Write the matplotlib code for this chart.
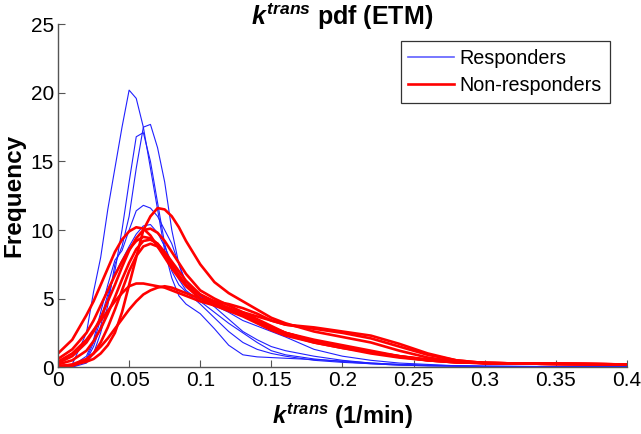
import matplotlib
matplotlib.use("Agg")
from matplotlib import pyplot as plt
from matplotlib.lines import Line2D

# k-trans grid (1/min) shared by every curve
k_grid = [0, .01, .02, .025, .03, .035, .04, .045, .05, .055, .06, .065, .07, .075,
          .08, .085, .09, .1, .11, .12, .13, .14, .15, .16, .18, .2, .22, .24, .26,
          .28, .3, .34, .4]

# responders (blue)
resp_1 = [0, 0.2, 2.5, 5.5, 8, 11.5, 14.5, 17.5, 20.2, 19.6, 17.5, 14.5, 11.5, 8.5,
          6.5, 5.2, 4.6, 3.9, 2.8, 1.6, 0.9, 0.75, 0.7, 0.65, 0.55, 0.45, 0.3, 0.2, 0.15,
          0.1, 0.08, 0.05, 0.03]
resp_2 = [0, 0, 0.5, 1.5, 3, 5, 7, 10, 13.5, 16.8, 17.1, 15, 12, 9,
          7, 6, 5.5, 4.6, 3.6, 2.6, 1.8, 1.3, 1.0, 0.8, 0.5, 0.35, 0.25, 0.15, 0.1,
          0.08, 0.05, 0.04, 0.03]
resp_3 = [0, 0, 0.3, 1, 2.5, 4.5, 7.5, 8.8, 11, 14.5, 17.5, 17.7, 16, 13.5,
          10, 7.5, 6, 5.2, 4.4, 3.5, 2.6, 2.0, 1.5, 1.2, 0.8, 0.5, 0.3, 0.2, 0.12,
          0.08, 0.05, 0.04, 0.03]
resp_4 = [0, 0.1, 0.8, 2, 4, 6, 7.8, 8.5, 10, 11.4, 11.8, 11.6, 11, 10,
          9, 7.5, 6.2, 5.2, 4.5, 4.0, 3.4, 3.0, 2.6, 2.2, 1.3, 0.8, 0.5, 0.3, 0.2,
          0.1, 0.06, 0.04, 0.03]
resp_5 = [0, 0.05, 0.6, 1.8, 3.5, 5.3, 6.8, 7.8, 8.8, 9.7, 10.3, 10.4, 9.8, 8.8,
          7.6, 6.4, 5.6, 4.8, 4.0, 3.2, 2.5, 1.8, 1.2, 0.9, 0.6, 0.4, 0.25, 0.15, 0.1,
          0.08, 0.05, 0.04, 0.03]

# non-responders (red)
nonresp_1 = [0.1, 0.15, 0.4, 0.6, 1.0, 1.6, 2.5, 4, 6, 8, 10, 11, 11.6, 11.5,
             11, 10.2, 9.2, 7.5, 6.2, 5.4, 4.8, 4.2, 3.6, 3.2, 2.6, 2.2, 1.8, 1.2, 0.7,
             0.4, 0.3, 0.25, 0.2]
nonresp_2 = [1.0, 2.0, 3.8, 4.8, 6, 7.2, 8.4, 9.3, 9.9, 10.2, 10.1, 9.6, 8.8, 8,
             7.2, 6.5, 6, 5.3, 4.8, 4.3, 3.8, 3.3, 2.8, 2.4, 1.8, 1.4, 1.1, 0.8, 0.55,
             0.4, 0.3, 0.25, 0.2]
nonresp_3 = [0.3, 0.8, 1.8, 2.6, 3.6, 4.8, 6, 7.3, 8.5, 9.4, 10, 10.1, 9.8, 9.2,
             8.4, 7.6, 6.8, 5.6, 5.0, 4.5, 4.0, 3.5, 3.0, 2.5, 1.9, 1.5, 1.1, 0.8, 0.55,
             0.4, 0.3, 0.25, 0.2]
nonresp_4 = [0.6, 1.3, 2.5, 3.4, 4.5, 5.6, 6.7, 7.7, 8.6, 9.2, 9.5, 9.4, 9.0, 8.3,
             7.5, 6.7, 6, 5.0, 4.5, 4.1, 3.7, 3.2, 2.7, 2.3, 1.8, 1.4, 1.0, 0.7, 0.5,
             0.35, 0.3, 0.25, 0.2]
nonresp_5 = [0.05, 0.1, 0.5, 1, 1.8, 2.9, 4.2, 5.6, 7, 8.1, 8.8, 9.0, 8.8, 8.2,
             7.4, 6.6, 5.9, 5.0, 4.6, 4.2, 3.8, 3.3, 2.9, 2.5, 2.0, 1.6, 1.2, 0.8, 0.5,
             0.35, 0.3, 0.25, 0.2]
nonresp_6 = [0.4, 1.0, 2.0, 2.7, 3.4, 4.1, 4.8, 5.4, 5.9, 6.1, 6.1, 6.0, 5.9, 5.8,
             5.6, 5.4, 5.2, 4.8, 4.5, 4.2, 4.0, 3.7, 3.4, 3.1, 2.8, 2.5, 2.1, 1.5, 0.9,
             0.5, 0.3, 0.25, 0.2]
nonresp_7 = [0.05, 0.2, 0.6, 1.0, 1.5, 2.1, 2.8, 3.5, 4.2, 4.8, 5.3, 5.6, 5.8, 5.9,
             5.8, 5.6, 5.4, 5.0, 4.8, 4.6, 4.3, 3.9, 3.4, 3.1, 2.9, 2.6, 2.3, 1.7, 1.0,
             0.5, 0.3, 0.25, 0.2]
nonresp_8 = [0.2, 0.5, 1.2, 1.9, 2.8, 3.9, 5.1, 6.4, 7.6, 8.6, 9.2, 9.3, 9.0, 8.4,
             7.7, 7.0, 6.3, 5.3, 4.7, 4.3, 3.9, 3.4, 2.9, 2.5, 1.9, 1.5, 1.1, 0.75, 0.5,
             0.35, 0.3, 0.25, 0.2]

responders = [resp_1, resp_2, resp_3, resp_4, resp_5]
non_responders = [nonresp_1, nonresp_2, nonresp_3, nonresp_4, nonresp_5,
                  nonresp_6, nonresp_7, nonresp_8]

x_ticks = [0, 0.05, 0.1, 0.15, 0.2, 0.25, 0.3, 0.35, 0.4]
y_ticks = [0, 5, 10, 15, 20, 25]

plt.rcParams['font.family'] = ['Liberation Sans', 'DejaVu Sans']
plt.rcParams['mathtext.fontset'] = 'custom'
plt.rcParams['mathtext.rm'] = 'Liberation Sans:bold'
plt.rcParams['mathtext.it'] = 'Liberation Sans:bold:italic'
plt.rcParams['mathtext.bf'] = 'Liberation Sans:bold'

fig = plt.figure(figsize=(6.41, 4.34), dpi=100)
ax = fig.add_axes([0.0905, 0.154, 0.8875, 0.79])

for curve in responders:
    ax.plot(k_grid, curve, color='#2020ff', linewidth=0.8)
for curve in non_responders:
    ax.plot(k_grid, curve, color='#ff0000', linewidth=1.9)

ax.set_xlim(0, 0.4)
ax.set_ylim(0, 25)
ax.set_xticks(x_ticks)
ax.set_xticklabels([('%g' % t) for t in x_ticks])
ax.set_yticks(y_ticks)

for side in ['top', 'right']:
    ax.spines[side].set_visible(False)
for side in ['left', 'bottom']:
    ax.spines[side].set_color('#555555')
    ax.spines[side].set_linewidth(1.0)
ax.tick_params(direction='in', length=5, width=0.8, color='#555555',
               labelsize=15, labelcolor='black', pad=3)

# title sits right under the top edge, centred on the axes
fig.text(0.534, 0.997, r'$k^{trans}$ pdf (ETM)', fontsize=18, fontweight='bold',
         ha='center', va='top')
ax.set_xlabel(r'$k^{trans}$ (1/min)', fontsize=17, fontweight='bold', labelpad=8)
ax.set_ylabel('Frequency', fontsize=17.5, fontweight='bold', labelpad=4)

handles = [Line2D([], [], color='#6060ff', linewidth=1.2),
           Line2D([], [], color='#ff0000', linewidth=1.9)]
leg = ax.legend(handles, ['Responders', 'Non-responders'], loc='upper right',
                bbox_to_anchor=(0.97, 0.95), fontsize=14.2, fancybox=False,
                framealpha=1, edgecolor='#333333', handlelength=2.3,
                handletextpad=0.3, borderpad=0.4, labelspacing=0.4,
                borderaxespad=0)
leg.get_frame().set_linewidth(0.9)

fig.savefig('out.png', dpi=100)
